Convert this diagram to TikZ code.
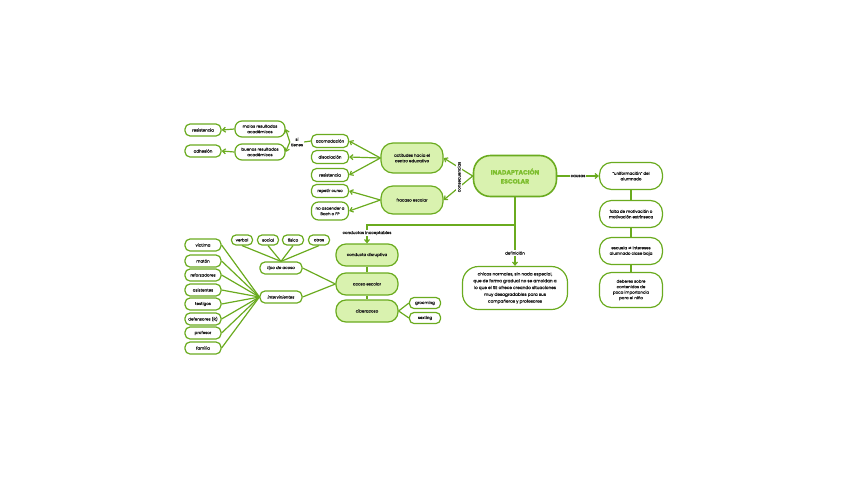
\documentclass[tikz,border=0pt]{standalone}
\usepackage{fontspec}
\setmainfont{Poppins}[FakeBold=0.9]
\newfontfamily\symbolfont{DejaVu Sans}[FakeBold=0.9]
\usepackage{tikz}
\usetikzlibrary{
  arrows.meta,
  positioning,
  calc
}
\definecolor{maGreen}{HTML}{6AAB1F}
\definecolor{maFill}{HTML}{D9F2AF}
\definecolor{maTitle}{HTML}{7DBE2E}
\definecolor{maText}{HTML}{1E1E1E}
\tikzset{
  manode/.style={
    draw=maGreen, line width=1.2pt, fill=white, rounded corners=5pt,
    minimum width=36pt, minimum height=12pt, inner sep=1pt, text=maText,
    font=\fontsize{4}{5.5}\selectfont, align=center
  },
  leaf/.style={manode},
  smallleaf/.style={manode, minimum width=21pt, minimum height=10pt, rounded corners=4.5pt},
  hub/.style={manode, fill=maFill, minimum width=62pt, minimum height=22pt, rounded corners=10pt},
  cause/.style={manode, minimum width=63pt, minimum height=27pt, rounded corners=12pt},
  rootnode/.style={
    manode, fill=maFill, line width=1.6pt, minimum width=83pt, minimum height=41pt,
    rounded corners=17pt, text=maTitle, font=\fontsize{6.2}{9}\selectfont\bfseries
  },
  tag/.style={font=\fontsize{4}{5.5}\selectfont, text=maText, inner sep=1pt, align=center},
  link/.style={draw=maGreen, line width=1.2pt},
  linkarrow/.style={link, -{Straight Barb[length=3pt, width=5pt]}}
}

\begin{document}
\begin{tikzpicture}[x=1pt, y=-1pt]
  \useasboundingbox (0,0) rectangle (848,477);

  % centro
  \node[rootnode] (inad) at (515,176) {INADAPTACIÓN\\ESCOLAR};

  % causas
  \node[tag] (causas) at (578,176) {causas};
  \node[cause] (unif) at (631,176) {``uniformación'' del\\alumnado};
  \node[cause] (falta) at (631,214) {falta de motivación o\\motivación extrínseca};
  \node[cause] (escuela) at (631,251) {escuela {\symbolfont ≠} intereses\\alumnado clase baja};
  \node[cause, minimum height=35pt] (deberes) at (631,290) {deberes sobre\\contenidos de\\poca importancia\\para el niño};
  \draw[link] (inad.east) -- (causas.west);
  \draw[linkarrow] (causas.east) -- (unif.west);
  \draw[link] (unif.south) -- (falta.north);
  \draw[link] (falta.south) -- (escuela.north);
  \draw[link] (escuela.south) -- (deberes.north);

  % consecuencias
  \node[hub, minimum height=30pt, rounded corners=12pt] (actit) at (412,158) {actitudes hacia el\\centro educativo};
  \node[hub, minimum height=28pt, rounded corners=12pt] (fracaso) at (412,200) {fracaso escolar};
  \draw[linkarrow] (inad.west) -- (actit.east);
  \draw[linkarrow] (inad.west) -- (fracaso.east);
  \node[tag, fill=white, rotate=90] (consec) at (459,177) {consecuencias};

  \node[leaf, minimum width=37pt, minimum height=13pt] (acom) at (330,141) {acomodación};
  \node[leaf, minimum width=37pt, minimum height=13pt] (disoc) at (330,157) {disociación};
  \node[leaf, minimum width=37pt, minimum height=13pt] (resist) at (330,175) {resistencia};
  \node[leaf, minimum width=37pt, minimum height=13pt] (repetir) at (330,191) {repetir curso};
  \node[leaf, minimum width=37pt, minimum height=18pt, rounded corners=7pt] (noasc) at (330,211) {no ascender a\\Bach o FP};
  \foreach \t in {acom,disoc,resist}
    \draw[linkarrow] (actit.west) -- (\t.east);
  \foreach \t in {repetir,noasc}
    \draw[linkarrow] (fracaso.west) -- (\t.east);

  \node[tag] (sitienes) at (297,142) {si\\tienes};
  \node[leaf, minimum width=50pt, minimum height=16pt, rounded corners=7pt] (malos) at (260,129) {malos resultados\\académicos};
  \node[leaf, minimum width=50pt, minimum height=16pt, rounded corners=7pt] (buenos) at (260,152) {buenos resultados\\académicos};
  \node[leaf] (resistL) at (203,130) {resistencia};
  \node[leaf] (adhes) at (203,151) {adhesión};
  \draw[link] (acom.west) -- (sitienes.east);
  \draw[linkarrow] (sitienes.west) -- (malos.east);
  \draw[linkarrow] (sitienes.west) -- (buenos.east);
  \draw[linkarrow] (malos.west) -- (resistL.east);
  \draw[linkarrow] (buenos.west) -- (adhes.east);

  % definicion
  \node[tag] (definicion) at (515,253) {definición};
  \node[manode, minimum width=105pt, minimum height=43pt, rounded corners=16pt, font=\fontsize{4.2}{6.8}\selectfont] (defbox) at (515,288)
    {chicos normales, sin nada especial,\\que de forma gradual no se amoldan a\\lo que el SE ofrece creando situaciones\\muy desagradables para sus\\compañeros y profesores};
  \coordinate (split) at (515,225);
  \draw[link] (inad.south) -- (definicion.north);
  \draw[linkarrow] (definicion.south) -- (defbox.north);

  % conductas inaceptables
  \node[tag] (conductas) at (367,233) {conductas inaceptables};
  \node[hub] (disrup) at (367,255) {conducta disruptiva};
  \node[hub] (acoso) at (367,284) {acoso escolar};
  \node[hub] (ciber) at (367,311) {ciberacoso};
  \draw[link] (split) -| (conductas.north);
  \draw[linkarrow] (conductas.south) -- (disrup.north);
  \draw[link] (disrup.south) -- (acoso.north);
  \draw[link] (acoso.south) -- (ciber.north);

  \node[smallleaf, minimum width=31pt, minimum height=11pt] (grooming) at (425,303) {grooming};
  \node[smallleaf, minimum width=31pt, minimum height=11pt] (sexting) at (425,318) {sexting};
  \draw[link] (ciber.east) -- (grooming.west);
  \draw[link] (ciber.east) -- (sexting.west);

  \node[leaf, minimum width=42pt, font=\fontsize{4}{5.5}\selectfont\itshape] (tipo) at (281,268) {tipo de acoso};
  \node[leaf, minimum width=42pt, font=\fontsize{4}{5.5}\selectfont\itshape] (interv) at (281,297) {intervinientes};
  \draw[link] (acoso.west) -- (tipo.east);
  \draw[link] (acoso.west) -- (interv.east);

  \foreach \x/\name/\txt in {242/verbal/verbal, 268/social/social, 293/fisico/físico, 319/otros/otros}{
    \node[smallleaf] (\name) at (\x,240) {\txt};
    \draw[link] (\name.south) -- (tipo.north);
  }

  \foreach \y/\name/\txt in {245/victima/víctima, 261/maton/matón, 275/reforz/reforzadores,
    290/asist/asistentes, 304/testigos/testigos, 319/defens/defensores (R),
    333/profesor/profesor, 348/familia/familia}{
    \node[leaf] (\name) at (203,\y) {\txt};
    \draw[link] (\name.east) -- (interv.west);
  }
\end{tikzpicture}
\end{document}
